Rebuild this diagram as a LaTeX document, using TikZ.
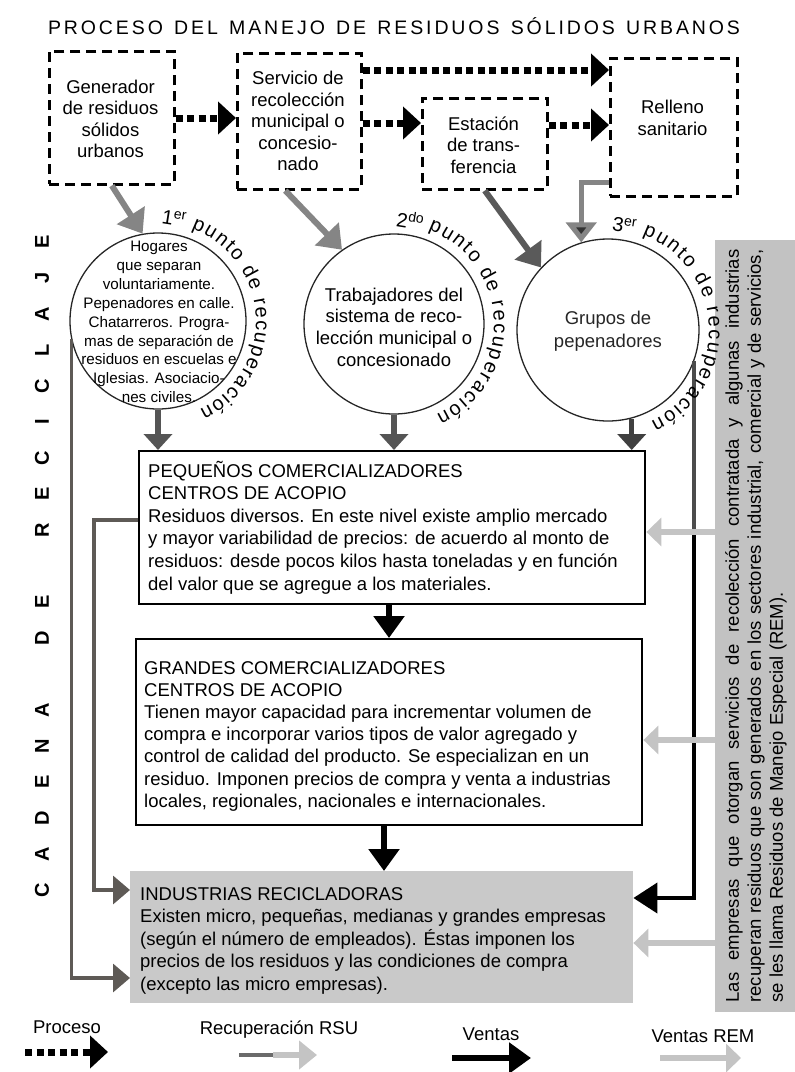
\documentclass[tikz,border=0pt]{standalone}
\usepackage{fontspec}
\setmainfont{Liberation Sans}
\usetikzlibrary{arrows.meta,decorations.text,calc}

\definecolor{recgray}{HTML}{858585}
\definecolor{recdark}{HTML}{5A5A5A}
\definecolor{downgray}{HTML}{555555}
\definecolor{linegray}{HTML}{5E5A56}
\definecolor{remgray}{HTML}{C4C4C4}
\definecolor{boxgray}{HTML}{C9C9C9}
\definecolor{remboxgray}{HTML}{C2C2C2}

\newcommand\myfA{\fontsize{18.5}{22}\selectfont}
\newcommand\myfTop{\fontsize{18.5}{21.5}\selectfont}
\newcommand\myfCi{\fontsize{15.2}{18.9}\selectfont}
\newcommand\myfCii{\fontsize{18.5}{21.7}\selectfont}
\newcommand\myfCiii{\fontsize{18.5}{23}\selectfont}
\newcommand\myfArc{\fontsize{20}{20}\selectfont}
\newcommand\myfTitle{\fontsize{19.5}{20}\selectfont}
\newcommand\myfCad{\fontsize{20}{20}\selectfont\bfseries}

\begin{document}
\begin{tikzpicture}[x=1pt,y=1pt,
  dbox/.style={draw, line width=2.6pt, dash pattern=on 10pt off 6pt, inner sep=0, anchor=north west},
  ptxt/.style={align=center, font=\myfTop, inner sep=0},
  parrow/.style={line width=7pt, dash pattern=on 7pt off 4.5pt, -{Triangle[width=32pt,length=18pt]}},
  rarrow/.style={line width=6pt, -{Triangle[width=32pt,length=22pt]}},
  circ/.style={circle, draw=black!85, line width=1.3pt, inner sep=0},
  darrow/.style={draw=downgray, line width=5.5pt, -{Triangle[width=28pt,length=16pt]}},
  varrow/.style={black, line width=5.5pt, -{Triangle[width=30pt,length=22pt]}},
  remarrow/.style={remgray, line width=6pt, -{Triangle[width=28pt,length=15pt]}},
  lline/.style={linegray, line width=3.5pt, -{Triangle[width=28pt,length=17pt]}},
  wbox/.style={draw, line width=2.4pt, fill=white, inner sep=0, anchor=north west},
  btxt/.style={anchor=base west, font=\myfA, inner sep=0},
  arctxt/.style={decorate, decoration={text along path, text={|\myfArc|punto de recuperación}, text align=fit to path}},
  ordtxt/.style={font=\myfArc, rotate=-9, inner sep=0},
  cadtxt/.style={font=\myfCad, rotate=90, inner sep=0},
  legtxt/.style={font=\myfA, inner sep=0}
]
\useasboundingbox (0,0) rectangle (795,-1072);

% REM background box (drawn first so that other marks lie above it)
\node[fill=remboxgray, inner sep=0, anchor=north west, minimum width=80, minimum height=772] (rem) at (715,-240) {};

% title
\coordinate (t1) at (48,-34);
\coordinate (t2) at (740,-34);
\path[decorate, decoration={text along path, text={|\myfTitle|PROCESO DEL MANEJO DE RESIDUOS SÓLIDOS URBANOS}, text align=fit to path}] (t1) -- (t2);

% top dashed boxes
\node[dbox, minimum width=125, minimum height=133] (gen) at (48,-50) {};
\node[ptxt] (gent) at (110.5,-119) {Generador\\de residuos\\sólidos\\urbanos};
\node[dbox, minimum width=124, minimum height=136] (serv) at (236,-52) {};
\node[ptxt] (servt) at (298,-121) {Servicio de\\recolección\\municipal o\\concesio-\\nado};
\node[dbox, minimum width=125, minimum height=91] (est) at (421,-97) {};
\node[ptxt] (estt) at (483.5,-145) {Estación\\de trans-\\ferencia};
\node[dbox, minimum width=127, minimum height=138] (rell) at (609,-57) {};
\node[ptxt] (rellt) at (672.5,-118) {Relleno\\sanitario};

% process arrows
\coordinate (ya) at (0,-118);
\coordinate (yb) at (0,-123);
\coordinate (yc) at (0,-125);
\coordinate (yd) at (0,-70);
\draw[parrow] (gen.east |- ya) -- (serv.west |- ya);
\draw[parrow] (serv.east |- yb) -- (est.west |- yb);
\draw[parrow] (est.east |- yc) -- (rell.west |- yc);
\draw[parrow] (serv.east |- yd) -- (rell.west |- yd);

% circles
\node[circ, minimum size=176] (c1) at (158,-321) {};
\node[circ, minimum size=180] (c2) at (394,-324) {};
\node[circ, minimum size=182] (c3) at (608,-330) {};

\node[align=center, font=\myfCi, inner sep=0] (c1t) at (159,-322) {Hogares\\que separan\\voluntariamente.\\Pepenadores en calle.\\Chatarreros. Progra-\\mas de separación de\\residuos en escuelas e\\Iglesias. Asociacio-\\nes civiles.};
\node[align=center, font=\myfCii, inner sep=0] (c2t) at (394,-327) {Trabajadores del\\sistema de reco-\\lección municipal o\\concesionado};
\node[align=center, font=\myfCiii, inner sep=0, text=black!85] (c3t) at (608,-331) {Grupos de\\pepenadores};

% recovery arrows from top boxes
\draw[rarrow, recgray] (gen.south) -- (c1.100);
\draw[rarrow, recgray] ($(serv.south)+(-14,0)$) -- (c2.125);
\draw[rarrow, recdark] (est.south) -- (c3.137);
\coordinate (yr) at (0,-182);
\draw[recgray, line width=5pt, -{Triangle[width=30pt,length=20pt,fill=black!80]}] (rell.west |- yr) -| (c3.107);

% boxes
\node[wbox, minimum width=506, minimum height=153] (peq) at (138,-450) {};
\node[wbox, minimum width=506, minimum height=186] (gra) at (135,-638) {};
\node[fill=boxgray, inner sep=0, anchor=north west, minimum width=503, minimum height=132] (ind) at (130,-871) {};

% down arrows from circles
\draw[darrow] (c1.south) -- (c1.south |- peq.north);
\draw[darrow] (c2.south) -- (c2.south |- peq.north);
\draw[darrow, draw=black!75] (c3.-75) -- (c3.-75 |- peq.north);

% sales arrows between boxes
\coordinate (xm1) at (389,0);
\coordinate (xm2) at (384,0);
\draw[varrow] (xm1 |- peq.south) -- (xm1 |- gra.north);
\draw[varrow] (xm2 |- gra.south) -- (xm2 |- ind.north);

% left lines
\coordinate (yl1) at (0,-978);
\coordinate (yl2) at (0,-890);
\coordinate (yp) at (0,-520);
\coordinate (xl2) at (94,0);
\draw[lline] (c1.192) -- (c1.192 |- yl1) -- (ind.west |- yl1);
\draw[lline] (peq.west |- yp) -- (xl2 |- yp) -- (xl2 |- yl2) -- (ind.west |- yl2);

% right line
\coordinate (yg) at (0,-535);
\coordinate (yk) at (0,-898);
\draw[black!70, line width=4pt] (c3.-20) -- (c3.-20 |- yg);
\draw[black, line width=4pt, -{Triangle[width=30pt,length=24pt]}] (c3.-20 |- yg) -- (c3.-20 |- yk) -- (ind.east |- yk);

% arc labels of the recovery points
\path[arctxt] ([shift={(70:98)}]c1.center) arc[start angle=70, end angle=-65, radius=98];
\path[arctxt] ([shift={(70:100)}]c2.center) arc[start angle=70, end angle=-65, radius=100];
\path[arctxt] ([shift={(70:101)}]c3.center) arc[start angle=70, end angle=-65, radius=101];

\node[ordtxt] (o1) at ([shift={(81:104)}]c1.center) {1\textsuperscript{er}};
\node[ordtxt] (o2) at ([shift={(81:105)}]c2.center) {2\textsuperscript{do}};
\node[ordtxt] (o3) at ([shift={(81:106)}]c3.center) {3\textsuperscript{er}};

% REM arrows
\coordinate (yr1) at (0,-532);
\coordinate (yr2) at (0,-740);
\coordinate (yr3) at (0,-943);
\draw[remarrow] (rem.west |- yr1) -- (peq.east |- yr1);
\draw[remarrow] (rem.west |- yr2) -- (gra.east |- yr2);
\draw[remarrow] (rem.west |- yr3) -- (ind.east |- yr3);

% box texts
\foreach \t [count=\k from 0] in {{PEQUEÑOS COMERCIALIZADORES}, {CENTROS DE ACOPIO}, {Residuos diversos. En este nivel existe amplio mercado}, {y mayor variabilidad de precios: de acuerdo al monto de}, {residuos: desde pocos kilos hasta toneladas y en función}, {del valor que se agregue a los materiales.}}
  \node[btxt] (peqL\k) at (148,-477-22.6*\k) {\t};
\foreach \t [count=\k from 0] in {{GRANDES COMERCIALIZADORES}, {CENTROS DE ACOPIO}, {Tienen mayor capacidad para incrementar volumen de}, {compra e incorporar varios tipos de valor agregado y}, {control de calidad del producto. Se especializan en un}, {residuo. Imponen precios de compra y venta a industrias}, {locales, regionales, nacionales e internacionales.}}
  \node[btxt] (graL\k) at (144,-674-22.2*\k) {\t};
\foreach \t [count=\k from 0] in {{INDUSTRIAS RECICLADORAS}, {Existen micro, pequeñas, medianas y grandes empresas}, {(según el número de empleados). Éstas imponen los}, {precios de los residuos y las condiciones de compra}, {(excepto las micro empresas).}}
  \node[btxt] (indL\k) at (140,-900-22.5*\k) {\t};

% REM text
\node[rotate=90, font=\myfA, align=left, inner sep=0] (remt) at (756,-626) {\makebox[753pt][s]{Las empresas que otorgan servicios de recolección contratada y algunas industrias}\\\makebox[753pt][s]{recuperan residuos que son generados en los sectores industrial, comercial y de servicios,}\\se les llama Residuos de Manejo Especial (REM).};

% left vertical label
\foreach \ch/\i in {C/0,A/1,D/2,E/3,N/4,A/5,D/7,E/8,R/10,E/11,C/12,I/13,C/14,L/15,A/16,J/17,E/18}
  \node[cadtxt] (cad\i) at (42,-890+36*\i) {\ch};

% legend
\node[legtxt] (legp) at (67,-1027) {Proceso};
\node[legtxt] (legr) at (279,-1030) {Recuperación RSU};
\node[legtxt] (legv) at (491,-1034) {Ventas};
\node[legtxt] (legm) at (703,-1036) {Ventas REM};
\coordinate (lp1) at (25,-1052);
\coordinate (lp2) at (108,-1052);
\draw[parrow] (lp1) -- (lp2);
\coordinate (lr1) at (239,-1055);
\coordinate (lrm) at (273,-1055);
\coordinate (lr2) at (317,-1055);
\draw[recdark!90, line width=4pt] (lr1) -- (lrm);
\draw[remgray, line width=6pt, -{Triangle[width=28pt,length=18pt]}] (lrm) -- (lr2);
\coordinate (lv1) at (452,-1058);
\coordinate (lv2) at (531,-1058);
\draw[varrow] (lv1) -- (lv2);
\coordinate (lm1) at (660,-1058);
\coordinate (lm2) at (741,-1058);
\draw[remarrow] (lm1) -- (lm2);
\end{tikzpicture}
\end{document}
